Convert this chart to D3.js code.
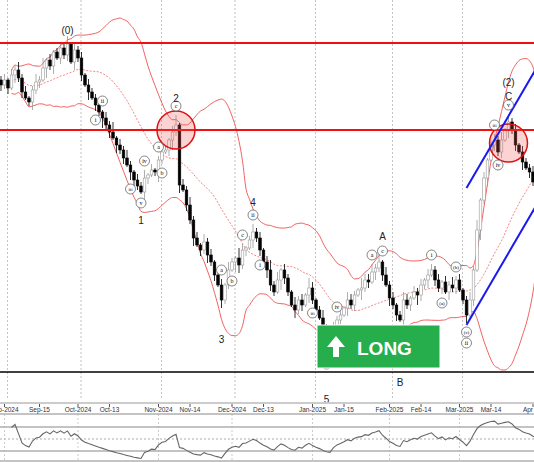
<!DOCTYPE html>
<html><head><meta charset="utf-8">
<script src="https://cdn.jsdelivr.net/npm/d3@7"></script>
<style>body{margin:0;background:#fff}svg{display:block}</style>
</head><body>
<script>
// closes (price units), index = trading day starting 2024-08-30
const closes=[315,320,312,325,330,322,308,302,298,310,318,320,332,340,334,348,342,352,345,356,338,350,342,
325,315,308,302,295,288,282,275,268,262,255,250,242,235,228,220,214,208,222,225,230,228,240,248,250,260,268,275,
215,210,195,180,162,155,150,158,145,138,125,115,100,115,130,138,142,135,150,152,160,168,162,150,138,130,115,108,120,130,122,108,95,90,100,95,105,112,100,90,82,70,60,55,70,80,85,92,100,95,105,110,112,120,118,128,132,138,125,115,102,95,85,80,100,95,102,108,105,115,120,125,130,120,112,118,108,115,112,120,110,100,
85,100,130,170,200,222,240,255,260,248,260,270,278,270,255,248,238,232,228,218,208];
const wickUp="2313242312425131232414231322313251324213241312421351324231423123142153124231352413214231531243142314321533425142312431323133";
const wickDn="3231423124231524132314231413252314231432143125213524132413242314221542314231432153214231423142153214231523142314231423153241";
const axisDates=["2024-09-02","2024-09-16","2024-10-01","2024-10-14","2024-11-01","2024-11-14","2024-12-02","2024-12-13","2025-01-02","2025-01-15","2025-02-03","2025-02-14","2025-03-03","2025-03-14","2025-04-01"];
const axisLabels=["Sep-2024","Sep-15","Oct-2024","Oct-13","Nov-2024","Nov-14","Dec-2024","Dec-13","Jan-2025","Jan-15","Feb-2025","Feb-14","Mar-2025","Mar-14","Apr"];
const hLinesRed=[357,270], hLineBlack=28;
const waveLabels=[["(0)",19,370],["2",50,302],["1",40,180],["3",63,61],["4",72,198],["A",109,164],["B",114,18],["(2)",145,318],["C",145,304],["5",93,1]];
const circLabels=[["i",27,"bot"],["ii",29,"top"],["iii",37,"bot"],["iv",41,"top"],["v",40,"bot"],["a",45,"top"],["b",46,"bot"],["c",50,"top"],
["i",74,"bot"],["ii",72,"top"],["iii",89,"bot"],["iv",96,"top"],["b",66,"bot"],["c",69,"top"],["a",63,"top"],["v",93,"bot2"],
["a",106,"top"],["c",109,"top"],["i",123,"top"],["(a)",126,"bot"],["(b)",130,"top"],["(c)",133,"bot"],["ii",133,"bot2"],["iii",141,"top"],["iv",142,"bot"],["v",145,"top"]];

const W=534,H=462;
const dates=[];let d=new Date(Date.UTC(2024,7,30));
while(dates.length<closes.length+30){const wd=d.getUTCDay();if(wd>0&&wd<6)dates.push(new Date(d));d=new Date(d.getTime()+864e5);}
const idxOf=s=>{const t=Date.parse(s);return dates.findIndex(x=>x.getTime()>=t);};
const opens=closes.map((c,i)=>i?closes[i-1]:c+5);
const highs=closes.map((c,i)=>Math.max(c,opens[i])+(+wickUp[i%wickUp.length])*2);
const lows=closes.map((c,i)=>Math.min(c,opens[i])-(+wickDn[i%wickDn.length])*2);

const x=d3.scaleLinear().domain([0,1]).range([1,4.5]);
const y=d3.scaleLinear().domain([0,400]).range([400,0]);
const svg=d3.select("body").append("svg").attr("width",W).attr("height",H).style("font-family","Liberation Sans, Arial");
const main=svg.append("g");
main.append("defs").append("clipPath").attr("id","cm").append("rect").attr("width",W).attr("height",402);
const g=main.append("g").attr("clip-path","url(#cm)");
const monthIdx=[0,2,4,6,8,10,12].map(k=>idxOf(axisDates[k]));
g.selectAll(".vg").data(monthIdx).join("line").attr("x1",d=>x(d)+3).attr("x2",d=>x(d)+3).attr("y1",0).attr("y2",400).attr("stroke","#aaa").attr("stroke-dasharray","2,2").attr("stroke-width",0.7);
const N=20;const bb=closes.map((c,i)=>{const s=closes.slice(Math.max(0,i-N+1),i+1);const m=d3.mean(s),sd=d3.deviation(s)||0;return {i,m,u:m+2*sd,l:m-2*sd};}).slice(3);
const ln=k=>d3.line().x(d=>x(d.i)).y(d=>y(d[k])).curve(d3.curveMonotoneX);
["u","l"].forEach(k=>g.append("path").datum(bb).attr("d",ln(k)).attr("fill","none").attr("stroke","#f05050").attr("stroke-width",0.9));
g.append("path").datum(bb).attr("d",ln("m")).attr("fill","none").attr("stroke","#f05050").attr("stroke-width",0.7).attr("stroke-dasharray","2,1.5");
const cg=g.selectAll(".c").data(closes).join("g");
cg.append("line").attr("x1",(d,i)=>x(i)).attr("x2",(d,i)=>x(i)).attr("y1",(d,i)=>y(highs[i])).attr("y2",(d,i)=>y(lows[i])).attr("stroke",(d,i)=>d>opens[i]?"#999":"#000").attr("stroke-width",0.8);
cg.append("rect").attr("x",(d,i)=>x(i)-1.3).attr("width",2.6).attr("y",(d,i)=>y(Math.max(d,opens[i]))).attr("height",(d,i)=>Math.max(1,Math.abs(y(d)-y(opens[i])))).attr("fill",(d,i)=>d>opens[i]?"#fff":"#000").attr("stroke",(d,i)=>d>opens[i]?"#999":"#000").attr("stroke-width",0.6);
hLinesRed.forEach(v=>g.append("line").attr("x1",0).attr("x2",W).attr("y1",y(v)).attr("y2",y(v)).attr("stroke","#f01010").attr("stroke-width",2));
g.append("line").attr("x1",0).attr("x2",W).attr("y1",y(hLineBlack)).attr("y2",y(hLineBlack)).attr("stroke","#000").attr("stroke-width",1.5);
[[50,270],[145,257]].forEach(([i,v])=>g.append("circle").attr("cx",x(i)).attr("cy",y(v)).attr("r",19).attr("fill","rgba(240,80,80,0.25)").attr("stroke","#e01010").attr("stroke-width",1.5));
[[133,212,153,332],[133,75,153,195]].forEach(([a,va,b,vb])=>g.append("line").attr("x1",x(a)).attr("y1",y(va)).attr("x2",x(b)).attr("y2",y(vb)).attr("stroke","#1a1aee").attr("stroke-width",2));
const pos=(i,p)=>p==="top"?y(highs[i])-9:p==="bot"?y(lows[i])+9:y(lows[i])+20;
circLabels.forEach(([t,i,p])=>{const cy=pos(i,p);g.append("circle").attr("cx",x(i)).attr("cy",cy).attr("r",5).attr("fill","#fff").attr("stroke","#555").attr("stroke-width",0.7);
 g.append("text").attr("x",x(i)).attr("y",cy+2).attr("text-anchor","middle").attr("font-size",t.length>2?5:6).attr("font-family","Liberation Serif").text(t);});
waveLabels.forEach(([t,i,v])=>g.append("text").attr("x",x(i)).attr("y",y(v)+4).attr("text-anchor","middle").attr("font-size",10).attr("fill","#222").text(t));
const bx=main.append("g").attr("transform","translate(317,325)");
bx.append("rect").attr("width",123).attr("height",43).attr("fill","#26ad4c").attr("stroke","#fff");
bx.append("path").attr("d","M16,32 V22 H10 L19,11 L28,22 H22 V32 Z").attr("fill","#fff");
bx.append("text").attr("x",40).attr("y",30).attr("fill","#fff").attr("font-weight","bold").attr("font-size",19).text("LONG");
svg.append("rect").attr("x",0).attr("y",402).attr("width",W).attr("height",2).attr("fill","#ccc");
svg.append("line").attr("x1",0).attr("x2",W).attr("y1",414).attr("y2",414).attr("stroke","#888");
svg.selectAll(".tk").data(axisDates).join("line").attr("x1",d=>x(idxOf(d))).attr("x2",d=>x(idxOf(d))).attr("y1",404).attr("y2",407).attr("stroke","#555");
svg.selectAll(".tl").data(axisDates).join("text").attr("x",d=>x(idxOf(d))).attr("y",412).attr("text-anchor",(d,i)=>i===axisDates.length-1?"end":"middle").attr("font-size",6.5).attr("fill","#333").text((d,i)=>axisLabels[i]);
const P=14;let ag=0,al=0;const rsi=[];
closes.forEach((c,i)=>{if(!i)return;const ch=c-closes[i-1];const gn=Math.max(ch,0),ls=Math.max(-ch,0);
 if(i<=P){ag+=gn/P;al+=ls/P;}else{ag=(ag*(P-1)+gn)/P;al=(al*(P-1)+ls)/P;}
 if(i>=3)rsi.push({i,v:al===0?100:100-100/(1+ag/al)});});
const yo=d3.scaleLinear().domain([30,70]).range([451,427]);
[70,30].forEach(v=>svg.append("line").attr("x1",0).attr("x2",W).attr("y1",yo(v)).attr("y2",yo(v)).attr("stroke","#555").attr("stroke-width",0.7));
svg.append("line").attr("x1",0).attr("x2",W).attr("y1",yo(50)).attr("y2",yo(50)).attr("stroke","#777").attr("stroke-dasharray","2,2").attr("stroke-width",0.6);
svg.selectAll(".og").data(monthIdx).join("line").attr("x1",d=>x(d)).attr("x2",d=>x(d)).attr("y1",414).attr("y2",461).attr("stroke","#aaa").attr("stroke-dasharray","2,2").attr("stroke-width",0.6);
svg.append("path").datum(rsi).attr("d",d3.line().x(d=>x(d.i)).y(d=>Math.max(416,Math.min(459,yo(d.v))))).attr("fill","none").attr("stroke","#666").attr("stroke-width",1.1);
svg.append("line").attr("x1",0).attr("x2",W).attr("y1",461).attr("y2",461).attr("stroke","#888");
</script></body></html>
